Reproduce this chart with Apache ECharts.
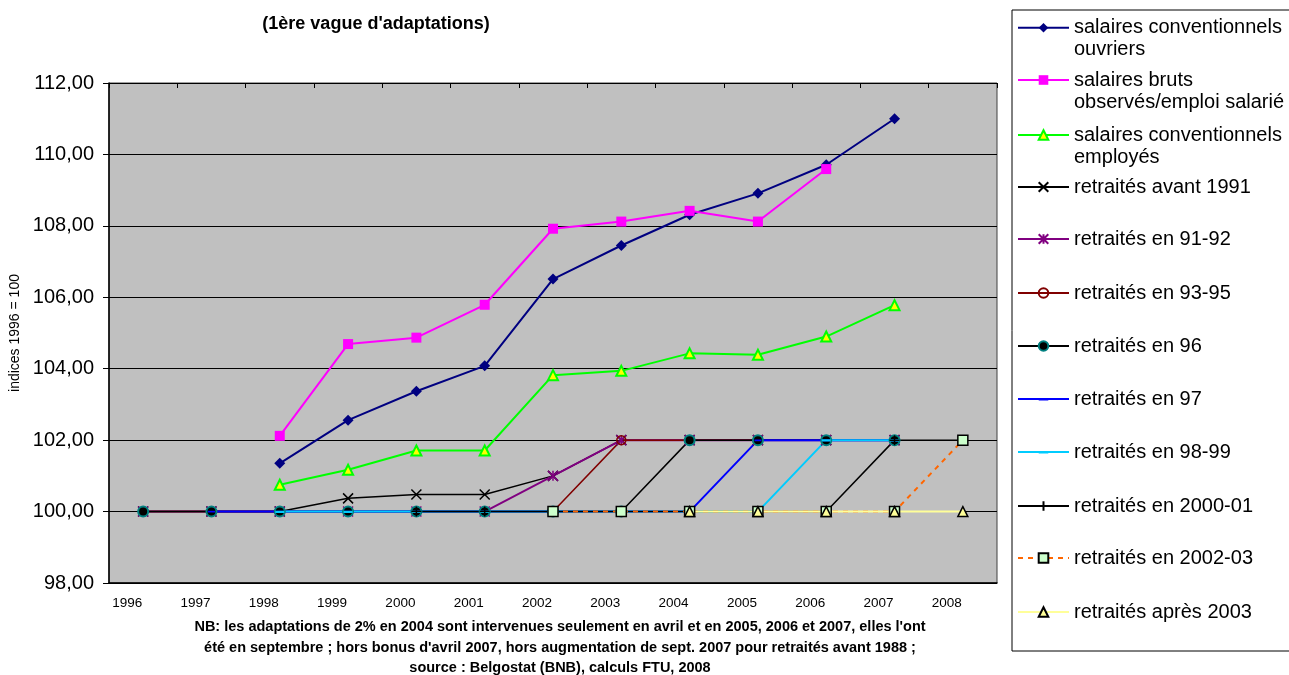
<!DOCTYPE html>
<html><head><meta charset="utf-8">
<script src="https://cdn.jsdelivr.net/npm/echarts@6/dist/echarts.min.js"></script>
<style>html,body{margin:0;padding:0;background:#fff;}#c{width:1289px;height:675px;}</style>
</head><body><div id="c"></div>
<script>
const FONT = '"Liberation Sans", Arial, Helvetica, sans-serif';
const years = ['1996','1997','1998','1999','2000','2001','2002','2003','2004','2005','2006','2007','2008'];
const titleText = "(1ère vague d'adaptations)";
const yAxisName = 'indices 1996 = 100';
const footnote = [
  "NB: les adaptations de 2% en 2004 sont intervenues seulement en avril et en 2005, 2006 et 2007, elles l'ont",
  "été en septembre ; hors bonus d'avril 2007, hors augmentation de sept. 2007 pour retraités avant 1988 ;",
  "source : Belgostat (BNB), calculs FTU, 2008"
];
const names = [
  'salaires conventionnels\nouvriers',
  'salaires bruts\nobservés/emploi salarié',
  'salaires conventionnels\nemployés',
  'retraités avant 1991',
  'retraités en 91-92',
  'retraités en 93-95',
  'retraités en 96',
  'retraités en 97',
  'retraités en 98-99',
  'retraités en 2000-01',
  'retraités en 2002-03',
  'retraités après 2003'
];
const ouvriers      = [null,null,101.35,102.56,103.37,104.08,106.51,107.45,108.31,108.91,109.71,111.00,null];
const brutsObserves = [null,null,102.12,104.69,104.87,105.79,107.92,108.12,108.42,108.12,109.59,null,null];
const employes      = [null,null,100.75,101.17,101.71,101.71,103.82,103.94,104.43,104.39,104.90,105.78,null];
const avant1991     = [100,100,100,100.37,100.48,100.48,101.00,102,102,102,102,102,null];
const en9192        = [100,100,100,100,100,100,101.00,102,102,102,102,102,null];
const en9395        = [100,100,100,100,100,100,100,102,102,102,102,102,null];
const en96          = [100,100,100,100,100,100,100,100,102,102,102,102,null];
const en97          = [null,100,100,100,100,100,100,100,100,102,102,102,null];
const en9899        = [null,null,100,100,100,100,100,100,100,100,102,102,null];
const en200001      = [null,null,null,null,100,100,100,100,100,100,100,102,102];
const en200203      = [null,null,null,null,null,null,100,100,100,100,100,100,102];
const apres2003     = [null,null,null,null,null,null,null,null,100,100,100,100,100];
const seriesData = [ouvriers,brutsObserves,employes,avant1991,en9192,en9395,en96,en97,en9899,en200001,en200203,apres2003];

const SYM_X = 'path://M0,0L10,10M10,0L0,10';
const SYM_STAR = 'path://M5,0L5,10M0,0L10,10M10,0L0,10';
const SYM_PLUS = 'path://M5,0L5,10M0,5L10,5';
const SYM_DASH = 'path://M0,0L0.01,0L0.01,0.01Z M0,4L10,4L10,6.5L0,6.5Z M9.99,9.99L10,9.99L10,10Z';

const styles = [
  {line:{color:'#000080',width:2}, symbol:'diamond', size:11, item:{color:'#000080',borderWidth:0}},
  {line:{color:'#FF00FF',width:2}, symbol:'rect', size:10, item:{color:'#FF00FF',borderWidth:0}},
  {line:{color:'#00FF00',width:2}, symbol:'triangle', size:10, item:{color:'#FFFF00',borderColor:'#00FF00',borderWidth:2}},
  {line:{color:'#000000',width:1.5}, symbol:SYM_X, size:10, item:{color:'#000',borderColor:'#000',borderWidth:1.5}},
  {line:{color:'#800080',width:2}, symbol:SYM_STAR, size:10, item:{color:'#800080',borderColor:'#800080',borderWidth:1.5}},
  {line:{color:'#800000',width:1.5}, symbol:'circle', size:9, item:{color:'rgba(0,0,0,0)',borderColor:'#800000',borderWidth:1.5}},
  {line:{color:'#000000',width:1.5}, symbol:'circle', size:10, item:{color:'#000',borderColor:'#008080',borderWidth:2}},
  {line:{color:'#0000FF',width:2}, symbol:SYM_DASH, size:7, item:{color:'#0000FF',borderWidth:0}},
  {line:{color:'#00CCFF',width:2}, symbol:SYM_DASH, size:9, item:{color:'#00CCFF',borderWidth:0}},
  {line:{color:'#000000',width:1.5}, symbol:SYM_PLUS, size:10, item:{color:'#000',borderColor:'#000',borderWidth:1.5}},
  {line:{color:'#FF6600',width:2,type:[5,5]}, symbol:'rect', size:10, item:{color:'#CCFFCC',borderColor:'#000',borderWidth:1.5}},
  {line:{color:'#FFFF99',width:2}, symbol:'triangle', size:10, item:{color:'#FFFF99',borderColor:'#000',borderWidth:1.5}}
];

const legendY = [27.7, 80, 135, 187, 239, 293, 346, 399, 452, 506, 558, 612];

const chart = echarts.init(document.getElementById('c'), null, {renderer:'canvas'});
chart.setOption({
  animation:false,
  backgroundColor:'#ffffff',
  textStyle:{fontFamily:FONT},
  grid:{left:109,right:292,top:83,bottom:92,show:true,backgroundColor:'#C0C0C0',borderColor:'#404040',borderWidth:1,outerBoundsMode:'none'},
  xAxis:[{
    type:'category', data:years, boundaryGap:true,
    axisLine:{show:true,onZero:false,lineStyle:{color:'#000',width:1.5}},
    axisTick:{show:false},
    axisLabel:{interval:0,fontSize:13.5,color:'#000',fontFamily:FONT,margin:13,padding:[0,32,0,0]},
    splitLine:{show:false}
  },{
    type:'category', data:years, position:'top', boundaryGap:true,
    axisLine:{show:true,onZero:false,lineStyle:{color:'#000',width:1}},
    axisTick:{show:true,inside:true,length:5,interval:0,lineStyle:{color:'#000'}},
    axisLabel:{show:false}, splitLine:{show:false}
  }],
  yAxis:{
    type:'value', min:98, max:112, interval:2,
    name:yAxisName, nameLocation:'middle', nameGap:84, nameRotate:90,
    nameTextStyle:{fontSize:14,color:'#000',fontFamily:FONT},
    axisLine:{show:true,lineStyle:{color:'#000',width:1.5}},
    axisTick:{show:true,length:6,lineStyle:{color:'#000'}},
    axisLabel:{fontSize:20,color:'#000',fontFamily:FONT,margin:15,formatter:v=>v.toFixed(2).replace('.',',')},
    splitLine:{show:true,lineStyle:{color:'#000',width:1}}
  },
  legend: names.map((n,i)=>{
    const two = n.indexOf('\n')>=0;
    return {
      data:[n], left:1017, top: two ? legendY[i]-33 : legendY[i]-11,
      orient:'vertical', itemWidth:51, itemHeight:12, padding:0, selectedMode:false,
      formatter: nm => (nm.indexOf('\n')>=0 ? '\u00a0\n' + nm : nm),
      textStyle:{fontSize:20,lineHeight:22,color:'#000',fontFamily:FONT}
    };
  }),
  graphic:[
    {type:'rect', z:-10, shape:{x:1012,y:10,width:300,height:641}, style:{fill:'#fff',stroke:'#000',lineWidth:1}},
    {type:'text', x:376, y:24, style:{text:titleText, fontSize:18, fontWeight:'bold', fontFamily:FONT, fill:'#000', align:'center', verticalAlign:'middle'}},
    {type:'text', x:560, y:647.5, style:{text:footnote.join('\n'), fontSize:14.5, lineHeight:20.5, fontWeight:'bold', fontFamily:FONT, fill:'#000', align:'center', verticalAlign:'middle'}}
  ],
  series: seriesData.map((d,i)=>({
    name:names[i], type:'line', data:d, xAxisIndex:0,
    symbol:styles[i].symbol, symbolSize:styles[i].size, showSymbol:true, showAllSymbol:true,
    lineStyle:styles[i].line, itemStyle:styles[i].item,
    emphasis:{disabled:true}, connectNulls:false
  }))
});
</script></body></html>
